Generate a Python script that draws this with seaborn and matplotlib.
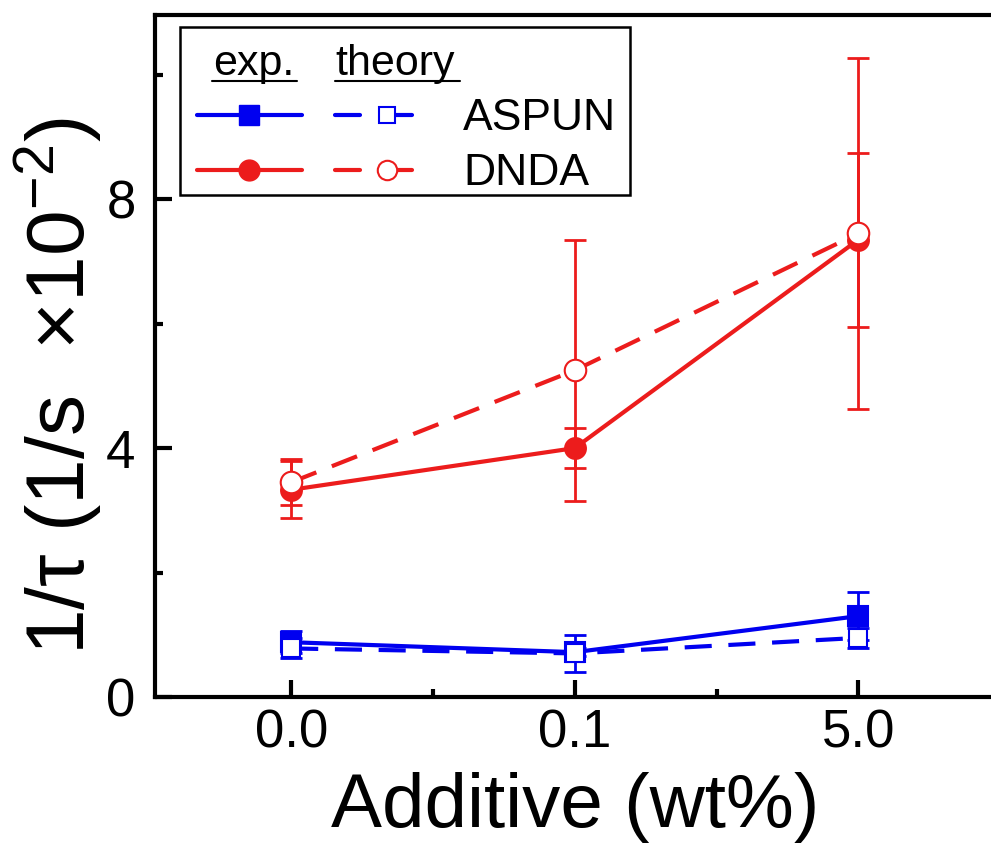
import pandas as pd
import seaborn as sns
import matplotlib.pyplot as plt
from matplotlib.patches import Rectangle

# values (1/tau in units of 1e-2 1/s)
additive = ["0.0", "0.1", "5.0"]
aspun_exp = [0.88, 0.72, 1.30]
aspun_exp_err = [0.18, 0.06, 0.38]
aspun_theory = [0.78, 0.70, 0.95]
aspun_theory_err = [0.16, 0.30, 0.16]
dnda_exp = [3.33, 4.00, 7.35]
dnda_exp_err = [0.46, 0.32, 1.40]
dnda_theory = [3.45, 5.25, 7.45]
dnda_theory_err = [0.37, 2.10, 2.82]

blue = "#0000f0"
red = "#ec1c1c"

sns.set_theme(style="ticks", rc={"text.color": "black", "axes.labelcolor": "black",
                                 "xtick.color": "black", "ytick.color": "black"})
plt.rcParams["font.family"] = ["Liberation Sans", "DejaVu Sans"]
plt.rcParams["mathtext.fontset"] = "custom"
plt.rcParams["mathtext.rm"] = "Liberation Sans"
plt.rcParams["mathtext.it"] = "Liberation Sans:italic"

x = list(range(len(additive)))

fig = plt.figure(figsize=(9.91, 8.44), dpi=100)
ax = fig.add_axes([0.1564, 0.1742, 0.873, 0.808])

series = [
    (aspun_exp, aspun_exp_err, blue, "-", "s", blue, 14, 3),
    (aspun_theory, aspun_theory_err, blue, (0, (6.5, 4)), "s", "white", 13, 4),
    (dnda_exp, dnda_exp_err, red, "-", "o", red, 15, 3),
    (dnda_theory, dnda_theory_err, red, (0, (6.5, 4)), "o", "white", 15.5, 4),
]

for vals, err, col, ls, mk, face, ms, z in series:
    df = pd.DataFrame({"x": x, "y": vals})
    ax.errorbar(df["x"], df["y"], yerr=err, fmt="none", ecolor=col,
                elinewidth=2, capsize=8, capthick=2, zorder=z)
    sns.lineplot(data=df, x="x", y="y", ax=ax, color=col, linewidth=3,
                 linestyle=ls, marker=mk, markersize=ms, markerfacecolor=face,
                 markeredgecolor=col, markeredgewidth=1.5, zorder=z + 0.5)

ax.set_xlim(-0.48, 2.57)
ax.set_ylim(0, 10.96)
ax.set_xticks(x)
ax.set_xticklabels(additive)
ax.set_xticks([0.5, 1.5], minor=True)
ax.set_yticks([0, 4, 8])
ax.set_yticks([2, 6, 10], minor=True)

ax.tick_params(axis="both", which="both", direction="in", width=3,
               top=False, right=False, colors="black")
ax.tick_params(axis="both", which="major", length=12, labelsize=38)
ax.tick_params(axis="both", which="minor", length=6)
ax.tick_params(axis="x", which="major", pad=8)
ax.tick_params(axis="y", which="major", pad=14)

for s in ["left", "bottom", "top"]:
    ax.spines[s].set_linewidth(3)
    ax.spines[s].set_color("black")
ax.spines["right"].set_visible(False)

ax.set_xlabel("Additive (wt%)", fontsize=55)
ax.set_ylabel("1/τ (1/s  ×10$^{-2}$)", fontsize=59)
ax.xaxis.set_label_coords(0.486, -0.11)
ax.yaxis.set_label_coords(-0.058, 0.455)


# hand-made legend, positions in axes fraction
def fx(px):
    return (px - 155) / 865


def fy(py):
    return (697 - py) / 682


T = ax.transAxes
ax.add_patch(Rectangle((fx(180), fy(195)), fx(630) - fx(180), fy(27) - fy(195),
                       fill=False, lw=1.8, ec="black", transform=T, zorder=10))
ax.text(fx(254), fy(75), "exp.", fontsize=31, ha="center", va="baseline", transform=T)
ax.text(fx(335), fy(75), "theory", fontsize=31, ha="left", va="baseline", transform=T)
ax.plot([fx(212), fx(297)], [fy(81), fy(81)], color="black", lw=1.5, transform=T)
ax.plot([fx(335), fx(460)], [fy(81), fy(81)], color="black", lw=1.5, transform=T)

rows = [("ASPUN", blue, "s", 115, 130, 14, 12), ("DNDA", red, "o", 170, 185, 15, 14)]
for name, col, mk, yc, yb, ms_f, ms_o in rows:
    ax.plot([fx(197), fx(302)], [fy(yc), fy(yc)], color=col, lw=3, transform=T,
            solid_capstyle="round", zorder=11)
    ax.plot([fx(249)], [fy(yc)], marker=mk, ms=ms_f, color=col, transform=T, zorder=12)
    ax.plot([fx(335), fx(360)], [fy(yc), fy(yc)], color=col, lw=3, transform=T,
            solid_capstyle="round", zorder=11)
    ax.plot([fx(387), fx(412)], [fy(yc), fy(yc)], color=col, lw=3, transform=T,
            solid_capstyle="round", zorder=11)
    ax.plot([fx(387)], [fy(yc)], marker=mk, ms=ms_o, mfc="white", mec=col, mew=1.5,
            transform=T, zorder=12)
    ax.text(fx(463), fy(yb), name, fontsize=32, ha="left", va="baseline", transform=T)

fig.savefig("out.png", dpi=100)
